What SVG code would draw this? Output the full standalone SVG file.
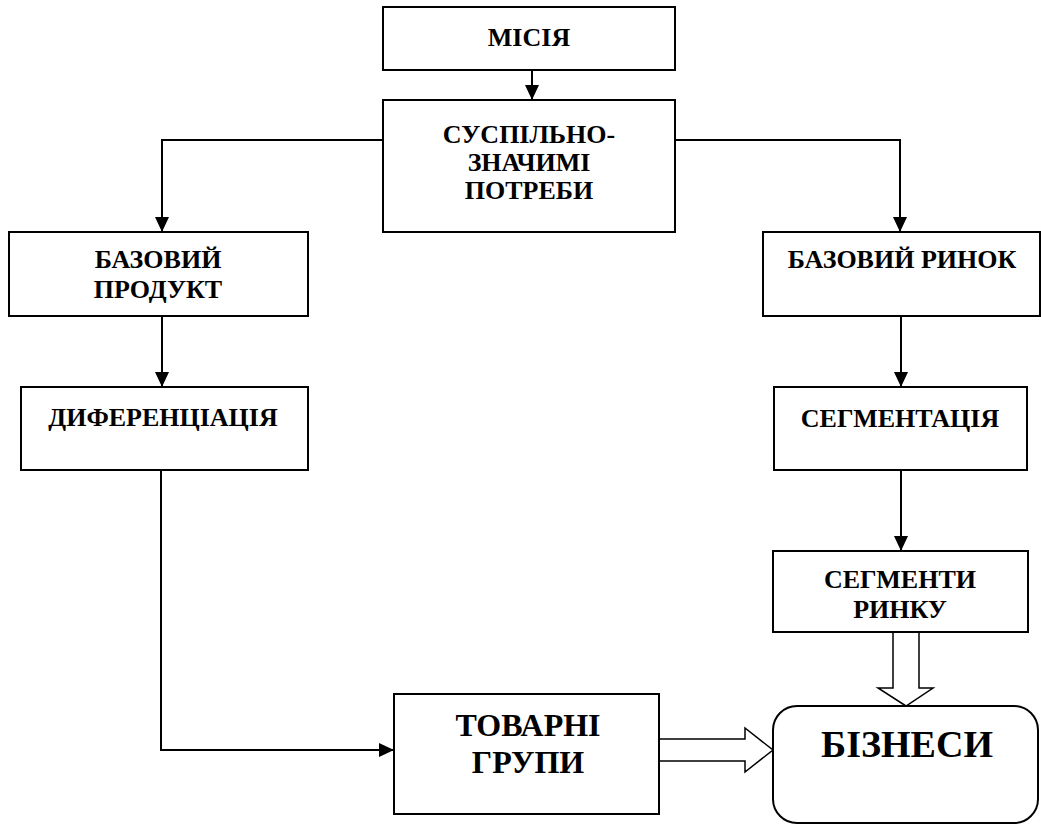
<svg xmlns="http://www.w3.org/2000/svg" width="1041" height="825" viewBox="0 0 1041 825">
<defs>
<style>
.box{fill:#fff;stroke:#000;stroke-width:2}
text{font-family:"Liberation Serif","Times New Roman",Times,serif;font-weight:bold;font-size:26px;fill:#000;text-anchor:middle}
.tl{font-size:32px}
.tx{font-size:38px}
.c{fill:none;stroke:#000;stroke-width:2}
.blk{fill:#fff;stroke:#000;stroke-width:1.5;stroke-linejoin:miter}
</style>
<marker id="ah" viewBox="0 0 15 14" refX="15" refY="7" markerWidth="15" markerHeight="14" markerUnits="userSpaceOnUse" orient="auto">
<path d="M0,0 L15,7 L0,14 Z" fill="#000"/>
</marker>
</defs>
<rect width="1041" height="825" fill="#fff"/>
<g id="connectors">
<path class="c" d="M532,70 L532,100" marker-end="url(#ah)"/>
<path class="c" d="M383,140 L162,140 L162,232" marker-end="url(#ah)"/>
<path class="c" d="M675,140 L900,140 L900,232" marker-end="url(#ah)"/>
<path class="c" d="M162,316 L162,387" marker-end="url(#ah)"/>
<path class="c" d="M901,316 L901,387" marker-end="url(#ah)"/>
<path class="c" d="M161,470 L161,750 L394,750" marker-end="url(#ah)"/>
<path class="c" d="M901,470 L901,551" marker-end="url(#ah)"/>
<path class="blk" d="M659,739 L745,739 L745,728 L773,750 L745,772 L745,761 L659,761"/>
<path class="blk" d="M893,632 L893,688 L878,688 L906,706 L933,688 L919,688 L919,632"/>
</g>
<g id="n-misiya">
<rect class="box" x="383" y="7" width="292" height="63"/>
<text x="529" y="46">МІСІЯ</text>
</g>
<g id="n-potreby">
<rect class="box" x="383" y="100" width="292" height="132"/>
<text x="529" y="143">СУСПІЛЬНО-</text>
<text x="529" y="171">ЗНАЧИМІ</text>
<text x="529" y="199">ПОТРЕБИ</text>
</g>
<g id="n-bazproduct">
<rect class="box" x="9" y="232" width="299" height="84"/>
<text x="158" y="268">БАЗОВИЙ</text>
<text x="158" y="298">ПРОДУКТ</text>
</g>
<g id="n-dyferentsiatsiya">
<rect class="box" x="21" y="387" width="287" height="83"/>
<text x="163" y="426">ДИФЕРЕНЦІАЦІЯ</text>
</g>
<g id="n-bazrynok">
<rect class="box" x="763" y="232" width="277" height="84"/>
<text x="902" y="268">БАЗОВИЙ РИНОК</text>
</g>
<g id="n-segmentatsiya">
<rect class="box" x="774" y="387" width="253" height="83"/>
<text x="900" y="427">СЕГМЕНТАЦІЯ</text>
</g>
<g id="n-segmenty">
<rect class="box" x="773" y="551" width="255" height="81"/>
<text x="900" y="588">СЕГМЕНТИ</text>
<text x="900" y="618">РИНКУ</text>
</g>
<g id="n-tovarni">
<rect class="box" x="394" y="694" width="265" height="120"/>
<text class="tl" x="528" y="736">ТОВАРНІ</text>
<text class="tl" x="528" y="773">ГРУПИ</text>
</g>
<g id="n-biznesy">
<rect class="box" x="773" y="706" width="265" height="117" rx="24" ry="24"/>
<text class="tx" x="907" y="757">БІЗНЕСИ</text>
</g>
</svg>
